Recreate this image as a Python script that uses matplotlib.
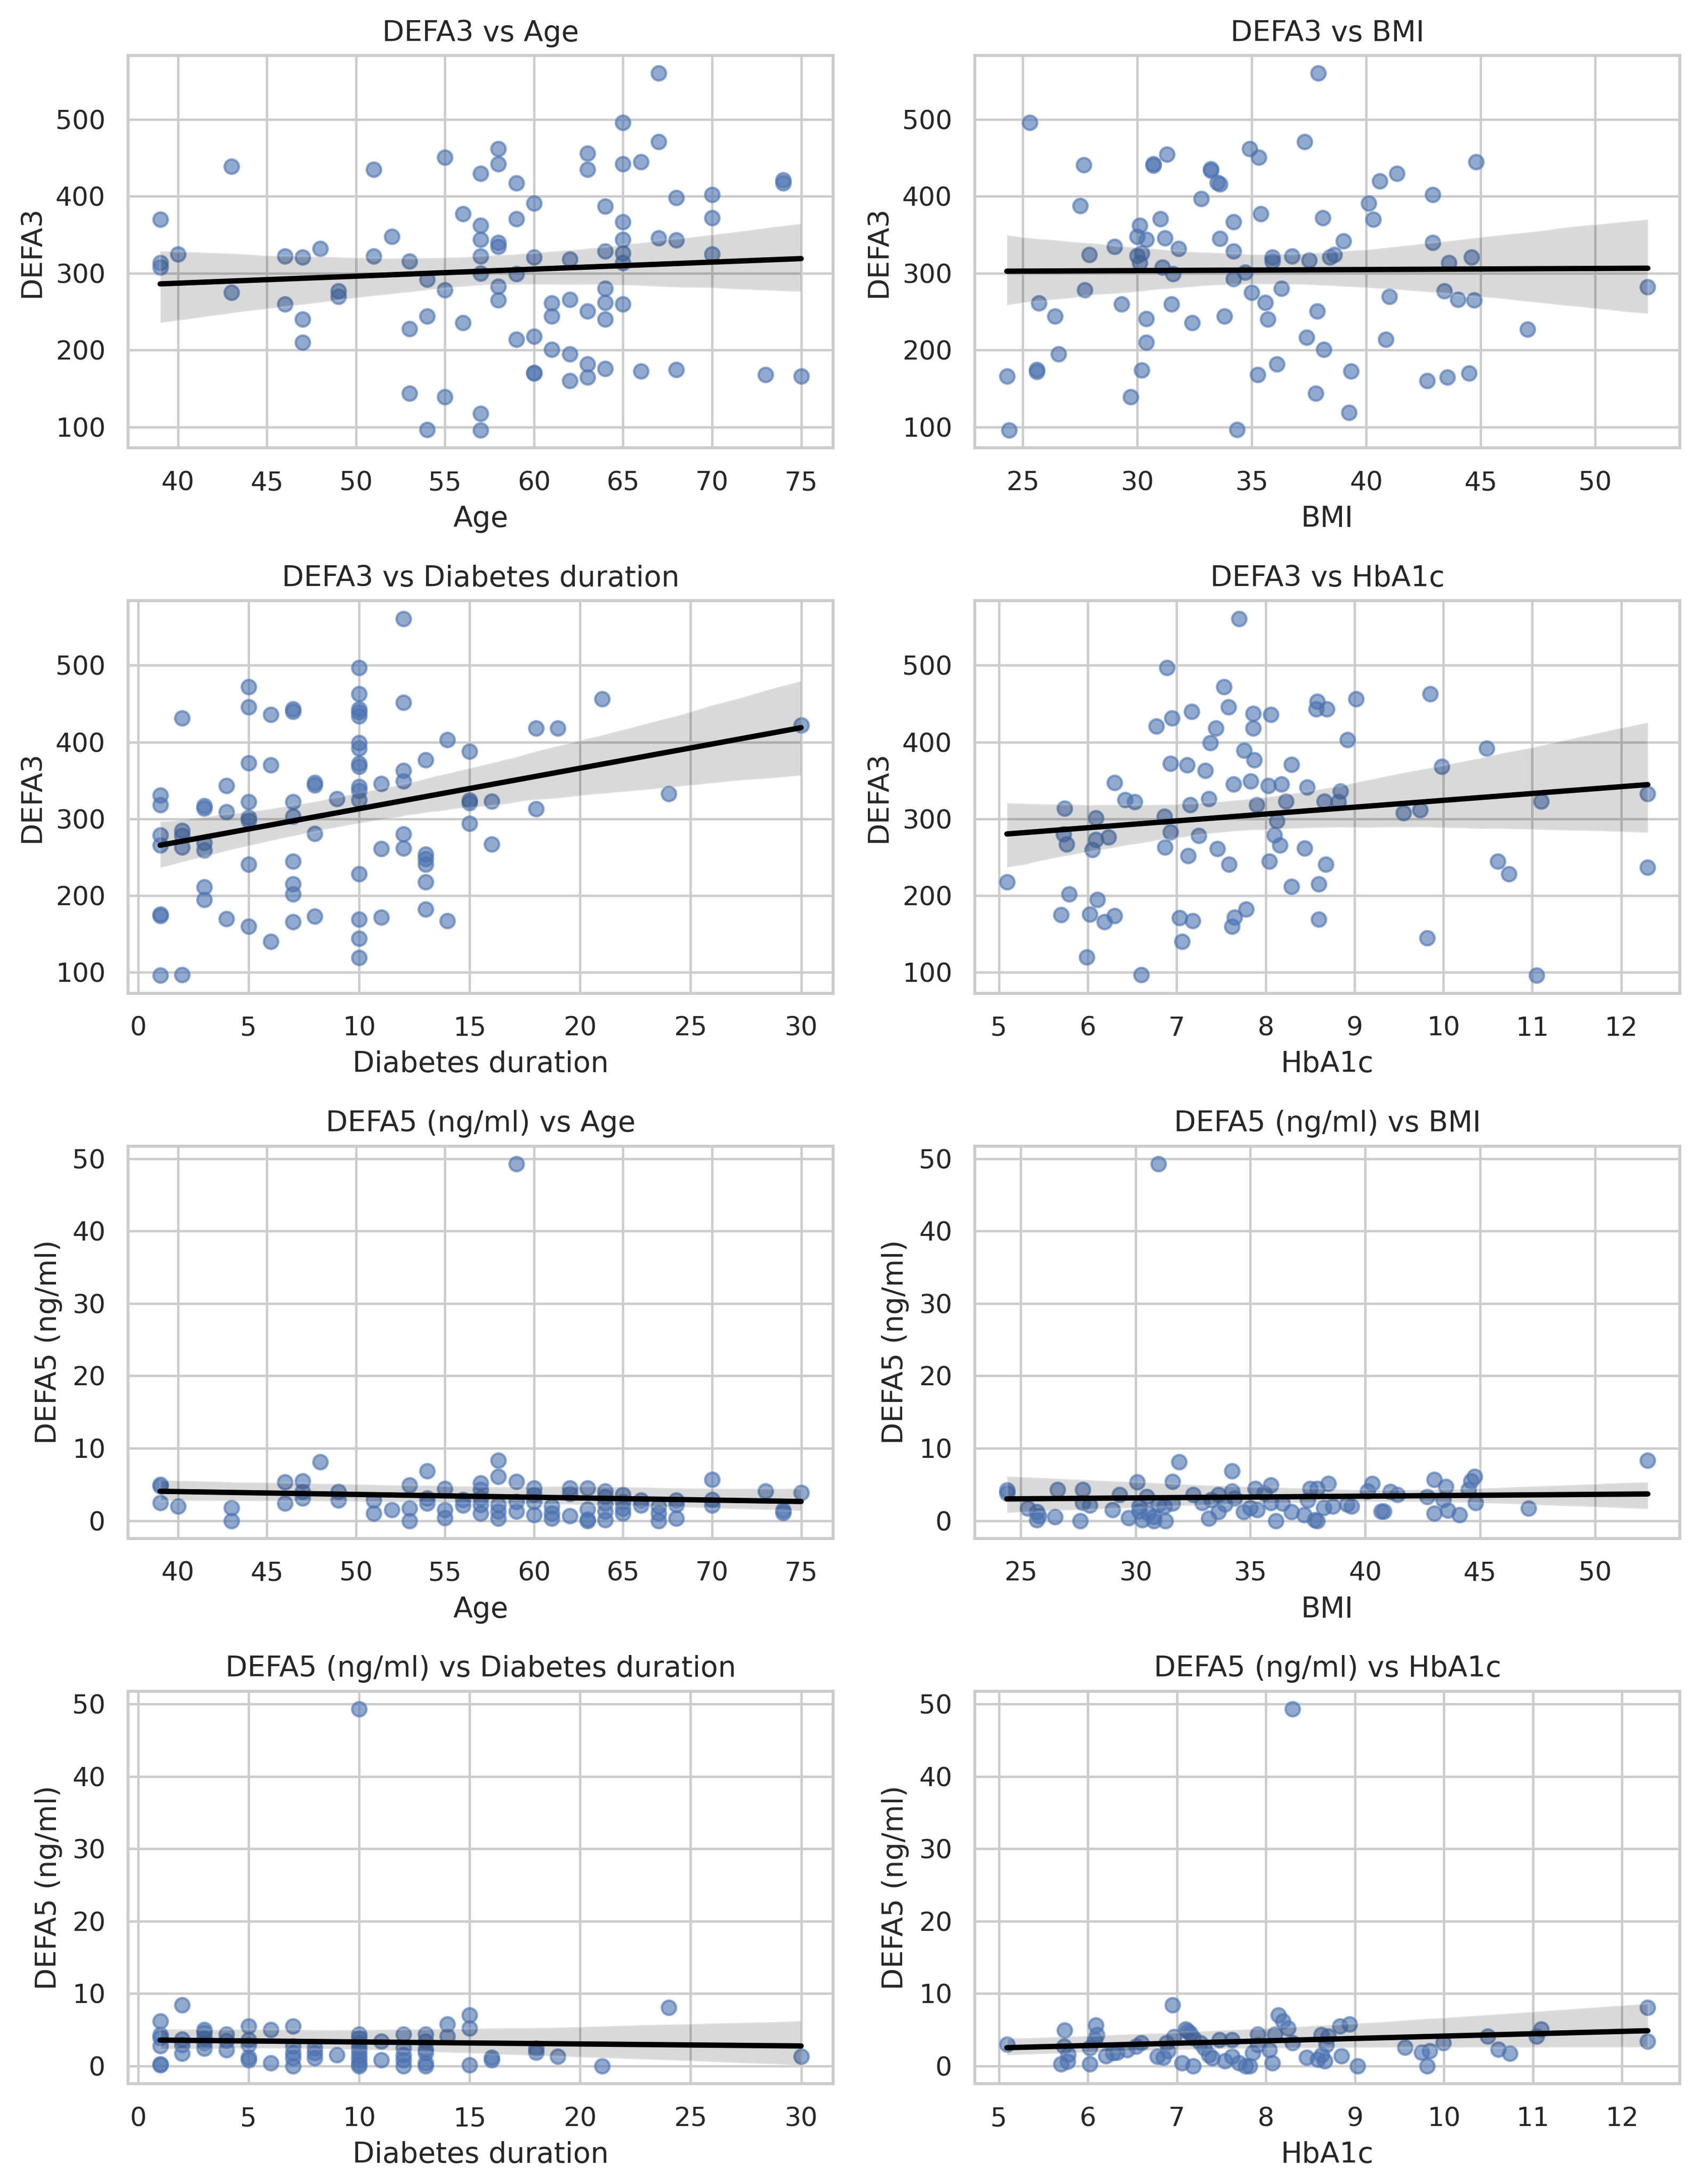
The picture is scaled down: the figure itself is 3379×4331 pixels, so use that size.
import matplotlib
matplotlib.use("Agg")
import matplotlib.pyplot as plt
import seaborn as sns

# DEFA3 vs Age
age_a3 = [67, 65, 67, 58, 55, 63, 43, 51, 58, 63, 65, 66, 57, 59, 74, 74, 60, 68, 70, 64,
          39, 56, 59, 70, 65, 57, 52, 57, 58, 58, 65, 67, 68, 40, 46, 47, 48, 51, 53, 57,
          60, 62, 64, 65, 65, 70, 39, 39, 57, 59, 54, 43, 49, 49, 55, 58, 64, 46, 58, 61,
          62, 64, 65, 47, 54, 61, 63, 64, 56, 53, 47, 59, 60, 61, 62, 60, 60, 62, 63, 63,
          64, 66, 68, 73, 75, 53, 55, 57, 54, 57]
defa3_age = [560, 496, 471, 462, 451, 456, 439, 435, 442, 435, 442, 445, 430, 417, 421, 417, 391, 398, 402, 387,
             370, 377, 371, 372, 367, 362, 348, 344, 340, 335, 344, 346, 343, 325, 322, 321, 332, 322, 316, 322,
             321, 318, 329, 326, 314, 325, 314, 308, 300, 299, 292, 275, 277, 270, 278, 283, 280, 260, 265, 261,
             266, 262, 260, 240, 244, 244, 251, 240, 236, 228, 210, 214, 218, 201, 195, 171, 170, 160, 182, 165,
             176, 173, 175, 168, 166, 144, 139, 118, 97, 96]

# DEFA3 vs BMI
bmi_a3 = [37.9, 25.3, 37.3, 34.9, 35.3, 31.3, 27.65, 30.7, 30.7, 33.2, 33.2, 33.5, 33.6, 44.8, 41.35, 40.6,
          42.9, 40.1, 32.8, 27.5, 35.4, 34.2, 38.1, 40.3, 30.1, 31.0, 30.0, 30.4, 31.2, 33.6, 39.0, 42.9,
          29.0, 31.8, 34.2, 27.9, 30.0, 30.2, 30.1, 31.1, 31.55, 35.9, 35.9, 36.75, 37.5, 38.4, 38.6, 43.6,
          44.6, 34.7, 34.2, 27.7, 35.0, 36.3, 43.4, 52.3, 25.7, 29.3, 31.5, 35.6, 41.0, 44.0, 44.7, 26.4,
          30.4, 32.4, 33.8, 35.7, 37.85, 30.4, 37.4, 38.15, 40.85, 47.05, 26.55, 25.6, 25.6, 24.3, 30.2, 35.26,
          36.1, 39.34, 42.67, 43.55, 44.5, 29.7, 37.8, 39.24, 24.4, 34.36]
defa3_bmi = [560, 496, 471, 462, 451, 455, 441, 442, 440, 436, 434, 418, 416, 445, 430, 420,
             402, 391, 397, 388, 377, 367, 372, 370, 362, 371, 348, 344, 346, 345, 342, 340,
             335, 332, 329, 324, 323, 326, 314, 308, 299, 321, 316, 322, 317, 321, 324, 314,
             321, 301, 293, 278, 275, 280, 277, 282, 261, 260, 260, 262, 270, 266, 265, 244,
             241, 236, 244, 240, 251, 210, 217, 201, 214, 227, 195, 175, 172, 166, 174, 168,
             182, 173, 160, 165, 170, 139, 144, 119, 96, 97]

# DEFA3 vs Diabetes duration
dur_a3 = [12, 10, 5, 10, 12, 21, 5, 2, 6, 7, 7, 10, 10, 10, 18, 19, 30, 14, 15, 10,
          10, 13, 5, 6, 10, 10, 12, 12, 11, 4, 8, 8, 10, 10, 10, 9, 1, 1, 3, 3,
          4, 5, 7, 15, 15, 16, 18, 24, 5, 5, 7, 15, 1, 1, 2, 2, 2, 3, 3, 8,
          12, 12, 11, 13, 13, 13, 16, 5, 7, 10, 13, 3, 3, 7, 7, 1, 1, 4, 5, 7,
          8, 10, 11, 13, 14, 6, 10, 10, 1, 2]
defa3_dur = [561, 497, 472, 463, 452, 456, 446, 431, 436, 443, 440, 443, 439, 434, 418, 418, 422, 403, 388, 399,
             392, 377, 373, 370, 372, 368, 363, 349, 346, 343, 347, 344, 342, 337, 325, 326, 331, 318, 317, 314,
             309, 322, 322, 324, 321, 323, 313, 333, 302, 298, 303, 294, 279, 266, 285, 278, 263, 269, 259, 281,
             280, 262, 261, 254, 248, 241, 267, 241, 245, 228, 218, 211, 195, 215, 202, 176, 174, 170, 160, 166,
             173, 169, 172, 182, 167, 140, 144, 119, 96, 97]

# DEFA3 vs HbA1c
hba_a3 = [7.70, 6.89, 7.53, 9.85, 9.02, 8.58, 8.57, 8.69, 7.58, 7.17, 7.86, 8.06, 6.95, 6.77, 7.44, 7.86,
          8.92, 7.38, 10.49, 7.76, 7.87, 6.93, 7.12, 8.29, 7.32, 9.98, 6.30, 7.64, 7.83, 8.03, 8.18, 8.47,
          8.84, 6.42, 6.53, 5.74, 7.36, 7.15, 7.90, 8.23, 8.66, 8.82, 9.55, 9.74, 11.1, 12.3, 6.09, 6.86,
          8.13, 5.73, 5.76, 6.09, 6.05, 6.23, 6.93, 7.25, 8.10, 6.87, 7.13, 7.46, 7.59, 8.04, 8.16, 8.44,
          8.68, 10.61, 10.74, 12.3, 5.09, 8.29, 8.60, 5.79, 6.11, 5.70, 6.02, 6.19, 6.30, 7.03, 7.18, 7.65,
          7.62, 7.78, 8.60, 7.06, 5.99, 9.82, 6.6, 11.05]
defa3_hba = [561, 497, 472, 463, 456, 453, 443, 443, 446, 440, 437, 436, 431, 421, 418, 418,
             403, 399, 392, 389, 377, 372, 370, 371, 363, 368, 347, 345, 349, 343, 345, 341,
             336, 325, 322, 314, 326, 318, 318, 323, 323, 322, 308, 312, 323, 333, 301, 303,
             297, 280, 267, 273, 260, 276, 283, 278, 279, 263, 252, 261, 241, 245, 266, 262,
             241, 245, 228, 237, 218, 212, 215, 202, 195, 175, 176, 166, 174, 171, 167, 172,
             160, 182, 169, 140, 120, 145, 97, 96]

# DEFA5 vs Age
age_a5 = [39, 39, 39, 40, 43, 43, 46, 46, 47, 47, 47, 48, 49, 49, 51, 51, 52, 53, 53, 53,
          54, 54, 54, 55, 55, 55, 56, 56, 57, 57, 57, 57, 57, 58, 58, 58, 58, 58, 59, 59,
          59, 59, 60, 60, 60, 60, 61, 61, 61, 62, 62, 62, 63, 63, 63, 63, 64, 64, 64, 64,
          64, 65, 65, 65, 65, 66, 66, 67, 67, 67, 68, 68, 68, 70, 70, 70, 73, 74, 74, 75]
defa5_age = [5.0, 4.8, 2.5, 2.0, 1.8, 0.0, 5.3, 2.4, 5.5, 4.0, 3.1, 8.1, 4.0, 2.8, 2.8, 1.0, 1.5, 4.9, 1.7, 0.0,
             6.9, 3.1, 2.4, 4.4, 1.5, 0.4, 2.9, 2.1, 5.2, 4.3, 3.1, 2.2, 1.0, 8.3, 6.1, 2.2, 1.3, 0.3, 5.4, 2.6,
             1.3, 49.3, 4.5, 3.6, 2.6, 0.8, 2.0, 1.0, 0.3, 4.5, 3.7, 0.7, 4.5, 1.6, 0.2, 0.0, 4.1, 3.3, 2.4, 1.3,
             0.1, 3.6, 2.6, 1.7, 1.0, 2.8, 2.1, 2.0, 1.0, 0.0, 2.8, 2.2, 0.3, 5.7, 2.9, 2.1, 4.1, 1.4, 1.1, 3.9]

# DEFA5 vs BMI
bmi_a5 = [24.4, 24.4, 25.3, 25.7, 25.8, 25.7, 26.5, 26.6, 27.6, 27.7, 27.7, 28.0, 29.0, 29.3, 29.7, 30.07,
          30.15, 30.15, 30.3, 30.5, 30.55, 30.8, 30.8, 31.0, 31.0, 31.25, 31.3, 31.6, 31.6, 31.9, 32.5, 32.9,
          33.2, 33.3, 33.6, 33.6, 33.9, 34.2, 34.2, 34.3, 34.7, 35.0, 35.2, 35.3, 35.6, 35.9, 35.9, 36.1,
          36.4, 36.8, 37.35, 37.5, 37.6, 37.8, 37.9, 37.9, 38.2, 38.4, 38.6, 39.2, 39.4, 40.1, 40.3, 40.7,
          40.8, 41.1, 41.4, 42.7, 43.0, 43.0, 43.4, 43.5, 43.6, 44.1, 44.5, 44.6, 44.75, 44.8, 47.1, 52.3]
defa5_bmi = [4.2, 3.8, 1.7, 1.2, 0.7, 0.1, 0.5, 4.3, 0.0, 4.3, 2.5, 2.1, 1.5, 3.6, 0.4, 5.3,
             2.0, 1.3, 0.1, 3.3, 1.0, 0.5, 0.0, 2.2, 49.3, 2.0, 0.0, 2.4, 5.4, 8.1, 3.6, 2.5,
             0.3, 2.9, 3.6, 1.2, 2.3, 6.9, 4.1, 3.1, 1.2, 1.8, 4.4, 1.5, 3.8, 4.9, 2.5, 0.0,
             2.4, 1.2, 0.8, 2.8, 4.4, 0.1, 0.0, 4.4, 1.8, 5.1, 2.0, 2.3, 2.0, 4.1, 5.1, 1.3,
             1.3, 4.0, 3.6, 3.3, 1.0, 5.7, 2.9, 4.7, 1.4, 0.8, 4.3, 5.5, 6.1, 2.5, 1.7, 8.3]

# DEFA5 vs Diabetes duration
dur_a5 = [1, 1, 1, 1, 1, 1, 2, 2, 2, 2, 3, 3, 3, 3, 3, 4, 4, 4, 5, 5,
          5, 5, 5, 6, 6, 7, 7, 7, 7, 7, 8, 8, 8, 9, 10, 10, 10, 10, 10, 10,
          10, 10, 10, 10, 11, 11, 12, 12, 12, 12, 12, 13, 13, 13, 13, 13, 13, 14, 14, 15,
          15, 15, 16, 16, 18, 18, 19, 21, 24, 30]
defa5_dur = [6.2, 4.3, 3.9, 2.8, 0.3, 0.1, 8.4, 3.7, 2.9, 1.7, 5.0, 4.6, 3.8, 3.2, 2.4, 4.4, 3.5, 2.2, 5.5, 3.6,
             2.9, 1.2, 0.8, 5.0, 0.4, 5.5, 2.7, 1.8, 1.1, 0.0, 2.5, 1.8, 1.1, 1.5, 4.4, 3.8, 3.2, 2.6, 2.0, 1.4,
             0.8, 0.3, 0.0, 49.3, 3.4, 0.8, 4.4, 2.5, 1.5, 0.8, 0.0, 4.4, 3.4, 2.3, 1.8, 0.4, 0.0, 5.8, 4.1, 7.0,
             5.2, 0.1, 1.2, 0.8, 2.4, 1.9, 1.3, 0.0, 8.1, 1.3]

# DEFA5 vs HbA1c
hba_a5 = [5.09, 5.74, 5.73, 5.78, 5.70, 5.77, 6.02, 6.02, 6.09, 6.10, 6.08, 6.20, 6.28, 6.33, 6.44, 6.54,
          6.60, 6.78, 6.85, 6.88, 6.90, 6.95, 6.97, 7.06, 7.10, 7.12, 7.15, 7.18, 7.18, 7.26, 7.31, 7.36,
          7.40, 7.48, 7.54, 7.62, 7.62, 7.70, 7.77, 7.82, 7.85, 7.91, 7.91, 8.04, 8.07, 8.10, 8.14, 8.19,
          8.25, 8.30, 8.30, 8.46, 8.58, 8.63, 8.62, 8.70, 8.68, 8.66, 8.83, 8.94, 8.85, 9.03, 9.56, 9.75,
          9.84, 9.81, 9.99, 10.49, 10.61, 10.74, 11.09, 11.04, 12.29, 12.29]
defa5_hba = [3.0, 4.9, 2.7, 1.6, 0.3, 0.6, 2.5, 0.3, 5.6, 4.3, 3.6, 1.4, 1.8, 1.9, 2.2, 2.7,
             3.2, 1.3, 1.2, 3.2, 2.1, 8.4, 4.0, 0.4, 5.1, 4.8, 4.5, 3.9, 0.0, 3.2, 2.5, 1.5,
             1.1, 3.6, 0.7, 3.6, 1.3, 0.4, 0.0, 0.0, 1.8, 4.4, 2.9, 2.2, 0.4, 4.4, 7.0, 6.2,
             5.2, 3.2, 49.3, 1.2, 0.9, 1.5, 4.3, 4.1, 2.9, 0.7, 5.5, 5.8, 1.4, 0.0, 2.6, 1.9,
             2.1, 0.0, 3.2, 4.1, 2.3, 1.7, 5.1, 4.1, 8.1, 3.4]

panels = [
    ("Age", "DEFA3", age_a3, defa3_age),
    ("BMI", "DEFA3", bmi_a3, defa3_bmi),
    ("Diabetes duration", "DEFA3", dur_a3, defa3_dur),
    ("HbA1c", "DEFA3", hba_a3, defa3_hba),
    ("Age", "DEFA5 (ng/ml)", age_a5, defa5_age),
    ("BMI", "DEFA5 (ng/ml)", bmi_a5, defa5_bmi),
    ("Diabetes duration", "DEFA5 (ng/ml)", dur_a5, defa5_dur),
    ("HbA1c", "DEFA5 (ng/ml)", hba_a5, defa5_hba),
]

sns.set_theme(style="whitegrid")

DPI = 340
fig, axes = plt.subplots(4, 2, figsize=(3379 / DPI, 4331 / DPI))
fig.subplots_adjust(left=0.0752, right=0.9858, top=0.9746, bottom=0.0459,
                    wspace=0.201, hspace=0.389)

for ax, (xname, yname, xs, ys) in zip(axes.flat, panels):
    sns.regplot(x=xs, y=ys, ax=ax, seed=0,
                scatter_kws={"alpha": 0.6},
                line_kws={"color": "black"})
    ax.set_title(f"{yname} vs {xname}")
    ax.set_xlabel(xname)
    ax.set_ylabel(yname)

fig.savefig("out.png", dpi=DPI)
